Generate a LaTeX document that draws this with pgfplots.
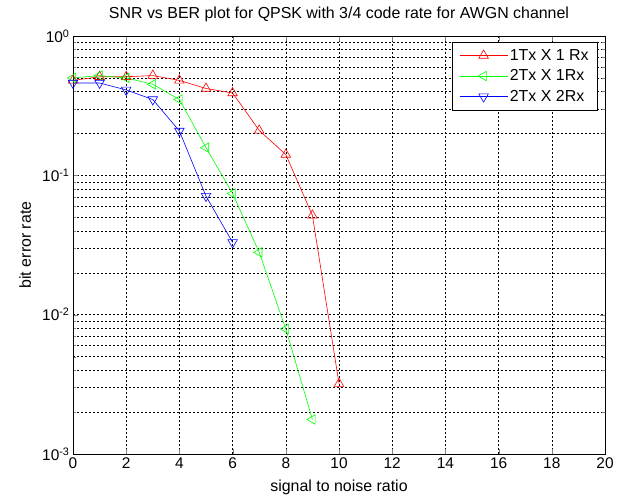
\documentclass[border=0pt]{standalone}
\usepackage{fontspec}
\setmainfont{Liberation Sans}
\usepackage{pgfplots}
\pgfplotsset{compat=1.18}

\begin{document}
\begin{tikzpicture}[x=1bp,y=1bp]
\useasboundingbox (-73,-44) rectangle (553,454);
\begin{semilogyaxis}[
  at={(0,0)}, anchor=south west,
  scale only axis,
  width=532bp, height=418bp,
  xmin=0, xmax=20, ymin=1e-3, ymax=1,
  xtick={0,2,...,20},
  ytick={0.001,0.01,0.1,1},
  yticklabels={10\textsuperscript{-3},10\textsuperscript{-2},10\textsuperscript{-1},10\textsuperscript{0}},
  /pgf/number format/assume math mode=true,
  tick label style={font=\fontsize{15.5}{18}\selectfont},
  tick align=inside,
  major tick length=5bp, minor tick length=3bp,
  xmajorgrids, ymajorgrids, yminorgrids,
  grid style={black, line width=0.4pt, dash pattern=on 2bp off 2bp},
  minor grid style={black, line width=0.4pt, dash pattern=on 2bp off 2bp},
  axis line style={black, line width=0.6pt},
  title={SNR vs BER plot for QPSK with 3/4 code rate for AWGN channel},
  title style={at={(axis description cs:0.5,1.038)}, anchor=center, font=\fontsize{16}{18}\selectfont},
  xlabel={signal to noise ratio},
  xlabel style={at={(axis description cs:0.5,-0.08)}, anchor=center, font=\fontsize{16}{18}\selectfont},
  ylabel={bit error rate},
  ylabel style={at={(axis description cs:-0.09,0.5)}, anchor=center, font=\fontsize{16}{18}\selectfont},
  legend style={at={(axis description cs:1,1)}, anchor=north east, xshift=-7bp, yshift=-6bp,
    draw=black, line width=0.6pt, fill=white, font=\fontsize{16}{18}\selectfont,
    row sep=4bp, inner xsep=7bp, inner ysep=5bp},
  legend cell align=left,
  legend image code/.code={\draw[mark repeat=2,mark phase=2,#1] plot coordinates {(0bp,0bp)(24bp,0bp)(48bp,0bp)};},
  every axis plot/.append style={line width=0.6pt},
]
\addplot[red, mark=triangle, mark size=5.5bp, mark options={solid, fill=none}] coordinates {
  (0,0.48) (1,0.51) (2,0.51) (3,0.52) (4,0.48) (5,0.42) (6,0.39)
  (7,0.21) (8,0.141) (9,0.0516) (10,0.0032)
};
\addlegendentry{1Tx X 1 Rx}
\addplot[green, mark=triangle, mark size=5.5bp, mark options={solid, fill=none, rotate=90}] coordinates {
  (0,0.50) (1,0.52) (2,0.50) (3,0.45) (4,0.35) (5,0.158) (6,0.074)
  (7,0.028) (8,0.0079) (9,0.00177)
};
\addlegendentry{2Tx X 1Rx}
\addplot[blue, mark=triangle, mark size=5.5bp, mark options={solid, fill=none, rotate=180}] coordinates {
  (0,0.46) (1,0.46) (2,0.41) (3,0.35) (4,0.208) (5,0.071) (6,0.033)
};
\addlegendentry{2Tx X 2Rx}
\end{semilogyaxis}
\end{tikzpicture}
\end{document}
